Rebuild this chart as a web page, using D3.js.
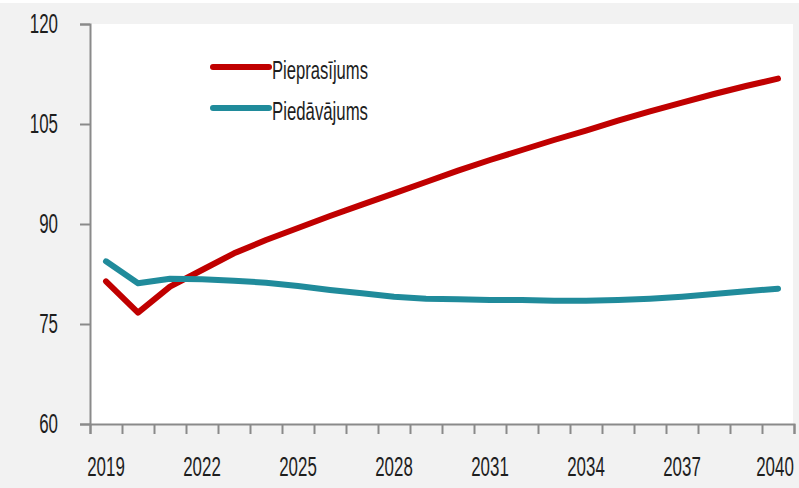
<!DOCTYPE html>
<html>
<head>
<meta charset="utf-8">
<script src="https://cdn.jsdelivr.net/npm/d3@7"></script>
<style>
    html, body { margin: 0; padding: 0; background: #ffffff; }
    svg { display: block; }
    text { font-family: "Liberation Sans Narrow", "Liberation Sans", Arial, sans-serif; fill: #1e1e1e; }
</style>
</head>
<body>
<div id="chart"></div>
<script>
// Data
const years = d3.range(2019, 2041);
const labelYears = [2019, 2022, 2025, 2028, 2031, 2034, 2037, 2040];
const yTicks = [60, 75, 90, 105, 120];

const demand = [81.4, 76.7, 80.6, 83.1, 85.6, 87.6, 89.4, 91.2, 92.9, 94.6, 96.3,
    98.0, 99.6, 101.1, 102.6, 104.0, 105.5, 106.9, 108.2, 109.5, 110.7, 111.8];
const supply = [84.4, 81.1, 81.8, 81.7, 81.5, 81.2, 80.7, 80.1, 79.6, 79.1, 78.8,
    78.7, 78.6, 78.6, 78.5, 78.5, 78.6, 78.8, 79.1, 79.5, 79.9, 80.3];

const seriesNames = ['Pieprasījums', 'Piedāvājums'];
const seriesColors = ['#c00000', '#208b9b'];

const W = 799, H = 488;
const margin = { top: 24, right: 5, bottom: 64, left: 90 };

const svg = d3.select('#chart')
    .append('svg')
    .attr('width', W)
    .attr('height', H);

// background
svg.append('rect')
    .attr('y', 3)
    .attr('width', W)
    .attr('height', H - 3)
    .attr('fill', '#f2f2f2');

const x = d3.scaleBand()
    .domain(years)
    .range([margin.left, W - margin.right])
    .padding(0);

const xEdges = d3.scaleLinear()
    .domain([0, years.length])
    .range([margin.left, W - margin.right]);

const y = d3.scaleLinear()
    .domain([60, 120])
    .range([H - margin.bottom, margin.top]);

// plot area
svg.append('rect')
    .attr('x', margin.left)
    .attr('y', margin.top)
    .attr('width', W - margin.right - margin.left - 1)
    .attr('height', H - margin.bottom - margin.top)
    .attr('fill', '#ffffff');

const axisColor = '#8a8a8a';
const digitW = 9.4;

// y axis
const yAxis = svg.append('g')
    .attr('transform', `translate(${margin.left},0)`)
    .call(d3.axisLeft(y).tickValues(yTicks).tickSize(10).tickPadding(22));
yAxis.select('.domain').attr('stroke', axisColor).attr('stroke-width', 2);
yAxis.selectAll('.tick line').attr('stroke', axisColor).attr('stroke-width', 2);
yAxis.selectAll('.tick text')
    .attr('font-size', 27)
    .attr('font-family', null)
    .attr('fill', '#1e1e1e')
    .attr('textLength', d => String(d).length * digitW)
    .attr('lengthAdjust', 'spacingAndGlyphs');

// x axis tick marks at band edges
const xTickAxis = svg.append('g')
    .attr('transform', `translate(0,${H - margin.bottom})`)
    .call(d3.axisBottom(xEdges).tickValues(d3.range(0, years.length + 1)).tickSize(10).tickFormat(''));
xTickAxis.select('.domain').attr('stroke', axisColor).attr('stroke-width', 2);
xTickAxis.selectAll('.tick line').attr('stroke', axisColor).attr('stroke-width', 2);

// x labels at band centres
const xLabelAxis = svg.append('g')
    .attr('transform', `translate(0,${H - margin.bottom})`)
    .call(d3.axisBottom(x).tickValues(labelYears).tickSize(0).tickPadding(33));
xLabelAxis.select('.domain').remove();
xLabelAxis.selectAll('.tick text')
    .attr('font-size', 27)
    .attr('font-family', null)
    .attr('fill', '#1e1e1e')
    .attr('dx', d => d === 2040 ? -3 : 0)
    .attr('textLength', d => String(d).length * digitW)
    .attr('lengthAdjust', 'spacingAndGlyphs');

// lines
const line = d3.line()
    .x((d, i) => x(years[i]) + x.bandwidth() / 2)
    .y(d => y(d));

[demand, supply].forEach((s, k) => {
    svg.append('path')
        .datum(s)
        .attr('fill', 'none')
        .attr('stroke', seriesColors[k])
        .attr('stroke-width', 6)
        .attr('stroke-linecap', 'round')
        .attr('stroke-linejoin', 'round')
        .attr('d', line);
});

// legend
const legend = svg.append('g');
seriesNames.forEach((name, k) => {
    const ly = 67 + k * 41;
    legend.append('line')
        .attr('x1', 213).attr('x2', 269)
        .attr('y1', ly).attr('y2', ly)
        .attr('stroke', seriesColors[k])
        .attr('stroke-width', 6)
        .attr('stroke-linecap', 'round');
    legend.append('text')
        .attr('x', 272)
        .attr('y', ly + 12)
        .attr('font-size', 26)
        .attr('textLength', 96)
        .attr('lengthAdjust', 'spacingAndGlyphs')
        .text(name);
});
</script>
</body>
</html>
